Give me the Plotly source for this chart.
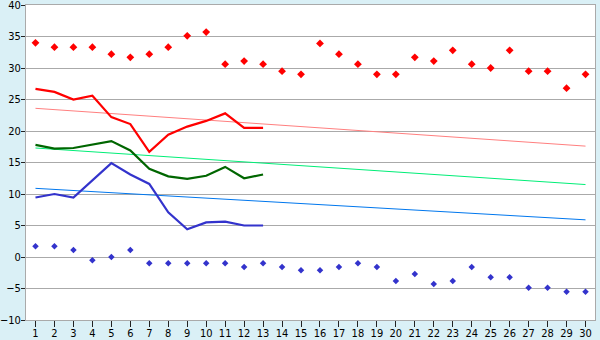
import plotly.graph_objects as go

days = list(range(1, 31))
days_line = list(range(1, 14))

max_pts = [34.0, 33.3, 33.3, 33.3, 32.2, 31.7, 32.2, 33.3, 35.1, 35.7,
           30.6, 31.1, 30.6, 29.5, 29.0, 33.9, 32.2, 30.6, 29.0, 29.0,
           31.7, 31.1, 32.8, 30.6, 30.0, 32.8, 29.5, 29.5, 26.8, 29.0]
min_pts = [1.7, 1.7, 1.1, -0.5, 0.0, 1.1, -1.0, -1.0, -1.0, -1.0,
           -1.0, -1.6, -1.0, -1.6, -2.1, -2.1, -1.6, -1.0, -1.6, -3.8,
           -2.7, -4.3, -3.8, -1.6, -3.2, -3.2, -4.9, -4.9, -5.5, -5.5]

max_line = [26.7, 26.2, 25.0, 25.6, 22.2, 21.1, 16.7, 19.4, 20.7, 21.6, 22.8, 20.5, 20.5]
mean_line = [17.8, 17.2, 17.3, 17.9, 18.4, 16.9, 14.0, 12.8, 12.4, 12.9, 14.3, 12.5, 13.1]
min_line = [9.45, 10.0, 9.45, 12.1, 14.9, 13.1, 11.6, 7.1, 4.4, 5.5, 5.6, 5.0, 5.0]

trend_x = [1, 30]
max_trend = [23.6, 17.6]
mean_trend = [17.3, 11.5]
min_trend = [10.9, 5.9]

x_ticks = [str(d) for d in days]
y_ticks = list(range(-10, 41, 5))

fig = go.Figure()
fig.add_trace(go.Scatter(x=trend_x, y=max_trend, mode="lines", line=dict(color="#ff7f7f", width=1)))
fig.add_trace(go.Scatter(x=trend_x, y=mean_trend, mode="lines", line=dict(color="#00ee77", width=1)))
fig.add_trace(go.Scatter(x=trend_x, y=min_trend, mode="lines", line=dict(color="#0077ee", width=1)))
fig.add_trace(go.Scatter(x=days_line, y=max_line, mode="lines", line=dict(color="#ff0000", width=2.2)))
fig.add_trace(go.Scatter(x=days_line, y=mean_line, mode="lines", line=dict(color="#006600", width=2.2)))
fig.add_trace(go.Scatter(x=days_line, y=min_line, mode="lines", line=dict(color="#3333cc", width=2.2)))
fig.add_trace(go.Scatter(x=days, y=max_pts, mode="markers",
                         marker=dict(symbol="diamond", size=6, color="#ff0000")))
fig.add_trace(go.Scatter(x=days, y=min_pts, mode="markers",
                         marker=dict(symbol="diamond", size=5, color="#3333cc")))

fig.update_layout(
    width=600, height=340,
    margin=dict(l=26, r=5, t=5, b=20, autoexpand=False),
    paper_bgcolor="#daf0f6",
    plot_bgcolor="#ffffff",
    showlegend=False,
    font=dict(family="DejaVu Sans Condensed, DejaVu Sans", size=11, color="#000000"),
)
fig.update_xaxes(
    range=[0.5, 30.5], tickvals=days, ticktext=x_ticks, automargin=False,
    showgrid=False, zeroline=False, ticklabeloverflow="allow",
    ticklabelstandoff=-3,
    showline=True, linecolor="#aaaaaa", linewidth=1, mirror=True,
    ticks="outside", ticklen=6, tickcolor="#222222",
)
fig.update_yaxes(
    range=[-10, 40], tickvals=y_ticks, automargin=False, ticklabeloverflow="allow",
    ticklabelstandoff=-2,
    showgrid=True, gridcolor="#aaaaaa", gridwidth=1, zeroline=False,
    showline=True, linecolor="#aaaaaa", linewidth=1, mirror=True,
    ticks="outside", ticklen=4, tickcolor="#222222",
)
fig.write_html("out.html", config={"displayModeBar": False},
               post_script="document.body.style.margin='0';")
